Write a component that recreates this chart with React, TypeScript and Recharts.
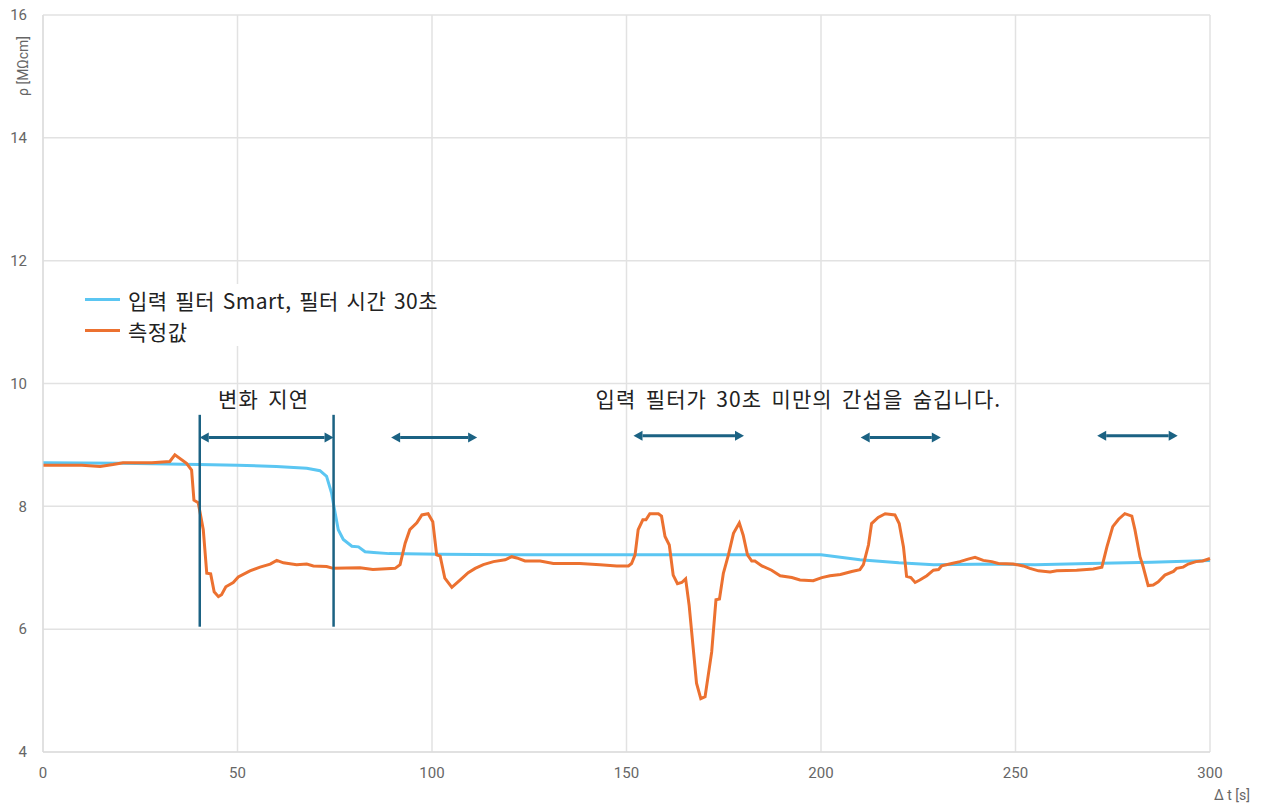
import React from "react";
import {
  LineChart,
  Line,
  XAxis,
  YAxis,
  CartesianGrid,
  ReferenceLine,
  ReferenceDot,
} from "recharts";

// filtered signal (input filter Smart, 30 s)
const filterTime = [
  0, 20, 40, 50, 60, 67.8, 71.2, 72.9, 74.2, 75.1, 75.9, 77.2, 79.4, 81.1,
  82.8, 85, 89, 102, 128, 150, 175, 200, 210, 220, 229, 245, 255, 269, 285,
  300,
];
const filterValues = [
  8.71, 8.7, 8.68, 8.67, 8.65, 8.62, 8.58, 8.49, 8.21, 7.89, 7.62, 7.46,
  7.35, 7.34, 7.26, 7.25, 7.23, 7.22, 7.21, 7.21, 7.21, 7.21, 7.13, 7.08,
  7.05, 7.06, 7.05, 7.07, 7.09, 7.12,
];

// raw measurement
const measTime = [
  0, 10, 14.7, 18, 20.6, 28, 32.6, 33.9, 36.9, 38.2, 38.8, 39.9, 41.2, 42.1,
  43.1, 44, 45.1, 45.9, 47, 48.9, 50.2, 53.2, 55.8, 58.4, 60.1, 61.8, 65.2,
  67.8, 69.5, 72.9, 74.6, 81.5, 84.8, 90.5, 91.8, 93.1, 94.3, 96.1, 97.4, 99,
  100.2, 101.2, 102.1, 103.3, 105.1, 107.2, 109.3, 111.1, 113.2, 115.8, 118.8,
  120.5, 121.8, 123.9, 127.8, 131.2, 138, 143.2, 147.5, 150.5, 151.3, 152.2,
  153, 154.2, 155, 156, 158.2, 159, 159.9, 161, 162, 163.1, 164.2, 165.2,
  166.1, 168, 169.1, 170.2, 171.9, 173, 173.9, 174.9, 176.2, 177.5, 179, 180,
  181.1, 182.2, 183, 184.8, 187.3, 189.5, 192.5, 194.6, 198, 200.2, 202.3, 205,
  207.9, 210, 210.9, 212.2, 213, 214.7, 216.5, 219, 220.1, 221.2, 222, 223.1,
  224.2, 225.4, 227.2, 228.9, 230.2, 231, 233.6, 235.7, 237.8, 239.6, 241.7,
  243.9, 245.6, 249.4, 252, 253.7, 255.9, 258.9, 260.6, 265.7, 270, 272.2,
  273.5, 275, 276.5, 278.1, 279.9, 280.7, 282, 282.8, 284.1, 285.4, 286.7,
  288.4, 290.6, 291.4, 293.1, 294.4, 296.4, 298.1, 300,
];
const measValues = [
  8.67, 8.67, 8.65, 8.68, 8.71, 8.71, 8.73, 8.84, 8.7, 8.59, 8.1, 8.06, 7.62,
  6.91, 6.9, 6.61, 6.53, 6.56, 6.69, 6.76, 6.85, 6.95, 7.01, 7.06, 7.12, 7.08,
  7.05, 7.06, 7.03, 7.02, 6.99, 7.0, 6.97, 6.99, 7.05, 7.4, 7.62, 7.73, 7.86,
  7.88, 7.75, 7.21, 7.19, 6.83, 6.68, 6.8, 6.92, 6.99, 7.05, 7.1, 7.13, 7.18,
  7.16, 7.11, 7.11, 7.07, 7.07, 7.05, 7.03, 7.03, 7.07, 7.21, 7.62, 7.78,
  7.78, 7.88, 7.88, 7.84, 7.51, 7.37, 6.88, 6.74, 6.76, 6.82, 6.39, 5.12,
  4.87, 4.9, 5.63, 6.48, 6.49, 6.91, 7.21, 7.56, 7.73, 7.53, 7.21, 7.11,
  7.11, 7.03, 6.96, 6.87, 6.84, 6.8, 6.79, 6.84, 6.87, 6.89, 6.94, 6.97,
  7.05, 7.37, 7.72, 7.82, 7.88, 7.86, 7.72, 7.34, 6.86, 6.84, 6.76, 6.8,
  6.87, 6.96, 6.97, 7.03, 7.07, 7.1, 7.14, 7.17, 7.12, 7.1, 7.07, 7.06, 7.03,
  6.99, 6.95, 6.93, 6.95, 6.96, 6.98, 7.01, 7.34, 7.67, 7.79, 7.88, 7.84,
  7.62, 7.18, 7.02, 6.71, 6.72, 6.77, 6.88, 6.94, 6.99, 7.01, 7.06, 7.1, 7.11,
  7.15,
];

const xTicks = [0, 50, 100, 150, 200, 250, 300];
const yTicks = [4, 6, 8, 10, 12, 14, 16];

// annotation markers: delay bounds and the double arrows
const delayMarks = [40.3, 74.7];
const delayRange = [6.04, 9.49];
const arrowStarts = [40.3, 89.5, 151.8, 210.2, 271.0];
const arrowEnds = [74.7, 111.6, 180.2, 230.8, 291.7];
const arrowLevels = [9.12, 9.12, 9.15, 9.12, 9.15];

const notes = [
  { t: 56.7, v: 9.76, text: "변화 지연" },
  { t: 194.2, v: 9.76, text: "입력 필터가 30초 미만의 간섭을 숨깁니다." },
];

const seriesNames = ["입력 필터 Smart, 필터 시간 30초", "측정값"];
const BLUE = "#5bc6f2";
const ORANGE = "#ec7130";
const DARK = "#1b6283";
const KR = "'Noto Sans CJK KR', sans-serif";

const filterData = filterTime.map((t, i) => ({ t, v: filterValues[i] }));
const measData = measTime.map((t, i) => ({ t, v: measValues[i] }));

const DoubleArrow = (props: any) => {
  const { x1, y1, x2 } = props;
  const h = 9;
  const w = 5;
  return (
    <g>
      <line x1={x1 + h} y1={y1} x2={x2 - h} y2={y1} stroke={DARK} strokeWidth={3} />
      <polygon points={`${x1},${y1} ${x1 + h},${y1 - w} ${x1 + h},${y1 + w}`} fill={DARK} />
      <polygon points={`${x2},${y1} ${x2 - h},${y1 - w} ${x2 - h},${y1 + w}`} fill={DARK} />
    </g>
  );
};

const LegendBox = () => (
  <div
    style={{
      position: "absolute",
      left: 75,
      top: 284,
      width: 345,
      height: 62,
      background: "#fff",
      fontFamily: KR,
      fontSize: 21,
      color: "#222",
      letterSpacing: 0.5,
      wordSpacing: 2.5,
    }}
  >
    {seriesNames.map((name, i) => (
      <div
        key={name}
        style={{
          position: "absolute",
          left: 10,
          top: i * 31,
          height: 31,
          display: "flex",
          alignItems: "center",
          whiteSpace: "nowrap",
        }}
      >
        <span
          style={{
            display: "inline-block",
            width: 35,
            height: 3,
            background: i === 0 ? BLUE : ORANGE,
            marginRight: 8,
          }}
        />
        {name}
      </div>
    ))}
  </div>
);

export default function App() {
  return (
    <div style={{ position: "absolute", left: 0, top: 0, width: 1263, height: 808, background: "#fff" }}>
      <LineChart
        width={1263}
        height={808}
        margin={{ top: 15, right: 53, bottom: 0, left: 0 }}
      >
        <CartesianGrid stroke="#e2e2e2" strokeWidth={1.5} />
        <XAxis
          dataKey="t"
          type="number"
          domain={[0, 300]}
          ticks={xTicks}
          height={56}
          stroke="#d9d9d9"
          tickLine={false}
          tickSize={0}
          tickMargin={15}
          tick={{ fontSize: 15, fill: "#666", fontFamily: "Roboto" }}
          label={(p: any) => (
            <text
              x={p.viewBox.x + p.viewBox.width + 22}
              y={p.viewBox.y + 48}
              textAnchor="middle"
              fontSize={14}
              fill="#666"
              fontFamily="Roboto"
            >
              Δ t [s]
            </text>
          )}
        />
        <YAxis
          type="number"
          domain={[4, 16]}
          ticks={yTicks}
          width={43}
          stroke="#d9d9d9"
          tickLine={false}
          tickSize={0}
          tickMargin={16}
          tick={{ fontSize: 15, fill: "#666", fontFamily: "Roboto" }}
          label={(p: any) => {
            const x = 28;
            const y = p.viewBox.y + 51;
            return (
              <text
                x={x}
                y={y}
                transform={`rotate(-90 ${x} ${y})`}
                textAnchor="middle"
                fontSize={14}
                fill="#666"
                fontFamily="Roboto"
              >
                ρ [MΩcm]
              </text>
            );
          }}
        />
        <Line
          data={filterData}
          dataKey="v"
          type="linear"
          stroke={BLUE}
          strokeWidth={3}
          dot={false}
          isAnimationActive={false}
        />
        <Line
          data={measData}
          dataKey="v"
          type="linear"
          stroke={ORANGE}
          strokeWidth={3}
          dot={false}
          isAnimationActive={false}
        />
        {delayMarks.map((t) => (
          <ReferenceLine
            key={`d${t}`}
            segment={[
              { x: t, y: delayRange[0] },
              { x: t, y: delayRange[1] },
            ]}
            stroke={DARK}
            strokeWidth={2.5}
          />
        ))}
        {arrowStarts.map((t, i) => (
          <ReferenceLine
            key={`a${t}`}
            segment={[
              { x: t, y: arrowLevels[i] },
              { x: arrowEnds[i], y: arrowLevels[i] },
            ]}
            shape={DoubleArrow}
          />
        ))}
        {notes.map((n) => (
          <ReferenceDot
            key={n.text}
            x={n.t}
            y={n.v}
            r={0}
            shape={(p: any) => (
              <text
                x={p.cx}
                y={p.cy}
                textAnchor="middle"
                dominantBaseline="central"
                fontSize={21}
                fill="#222"
                fontFamily={KR}
                letterSpacing={1.1}
                wordSpacing={3.5}
              >
                {n.text}
              </text>
            )}
          />
        ))}
      </LineChart>
      <LegendBox />
    </div>
  );
}
